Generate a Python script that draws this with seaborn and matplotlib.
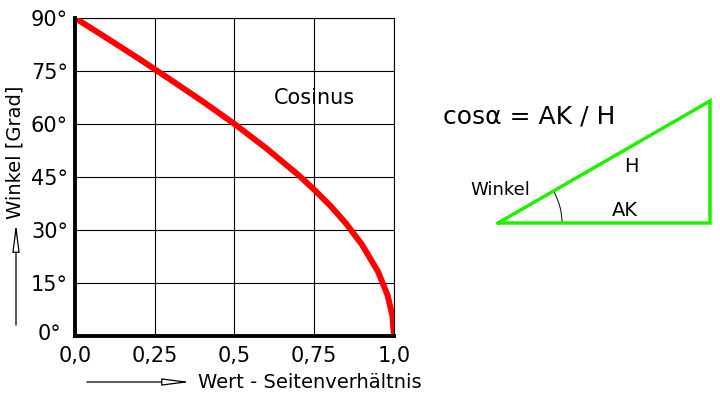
import matplotlib
matplotlib.use("Agg")
import matplotlib.pyplot as plt
import matplotlib.transforms as mtransforms
import seaborn as sns
import pandas as pd
from matplotlib.patches import Arc

# data
wert = [0.0, 0.1, 0.2, 0.25, 0.3, 0.4, 0.5, 0.6, 0.7, 0.75, 0.8, 0.85, 0.9, 0.95, 0.98, 0.995, 1.0]
winkel = [90, 84.3, 78.5, 75.5, 72.5, 66.4, 60, 53.1, 45.6, 41.4, 36.9, 31.8, 25.8, 18.2, 11.5, 5.7, 0]
x_ticks = [0, 0.25, 0.5, 0.75, 1.0]
x_labels = ["0,0", "0,25", "0,5", "0,75", "1,0"]
y_ticks = [0, 15, 30, 45, 60, 75, 90]
y_labels = ["0°", "15°", "30°", "45°", "60°", "75°", "90°"]

sns.set_style("white")
plt.rcParams['font.family'] = ['DejaVu Sans']
plt.rcParams['text.color'] = 'black'
plt.rcParams['xtick.color'] = 'black'
plt.rcParams['ytick.color'] = 'black'

W, H = 720, 400
fig = plt.figure(figsize=(7.2, 4.0), dpi=100)
ax = fig.add_axes([75 / W, 1 - 336 / H, (394 - 75) / W, (336 - 18) / H])

df = pd.DataFrame({"Wert": wert, "Winkel": winkel})
sns.lineplot(data=df, x="Wert", y="Winkel", ax=ax, color="#ff0000", linewidth=4.3,
             solid_capstyle="round", zorder=5)
ax.set_xlim(0, 1.0)
ax.set_ylim(0, 90)
ax.set_xticks(x_ticks)
ax.set_yticks(y_ticks)
ax.set_xticklabels(x_labels, fontsize=15)
ax.set_yticklabels(y_labels, fontsize=15)
ax.tick_params(axis="y", length=0, pad=5)
ax.tick_params(axis="x", length=0, pad=7)
# nudge the "0°" label up-left so it does not collide with "0,0"
lbl0 = ax.get_yticklabels()[0]
lbl0.set_transform(lbl0.get_transform() +
                   mtransforms.ScaledTranslation(-5 / 72, 3 / 72, fig.dpi_scale_trans))
ax.grid(True, color="black", linewidth=0.8)
ax.set_xlabel("")
ax.set_ylabel("")
for s in ["left", "bottom"]:
    ax.spines[s].set_color("black")
    ax.spines[s].set_linewidth(2.8)
    ax.spines[s].set_zorder(6)
for s in ["top", "right"]:
    ax.spines[s].set_color("black")
    ax.spines[s].set_linewidth(0.8)
ax.text(314 / W, 1 - 98 / H, "Cosinus", transform=fig.transFigure, fontsize=15,
        ha="center", va="center")

# overlay axes in pixel coords for annotations
ov = fig.add_axes([0, 0, 1, 1], facecolor="none")
ov.set_xlim(0, W)
ov.set_ylim(H, 0)
ov.axis("off")

ov.text(15, 152, "Winkel [Grad]", rotation=90, fontsize=14, ha="center", va="center")
ov.annotate("", xy=(16, 221), xytext=(16, 328),
            arrowprops=dict(arrowstyle="-|>,head_length=1.7,head_width=0.22", lw=0.9,
                            ec="black", fc="white"))
ov.text(198, 383, "Wert - Seitenverhältnis", fontsize=14, ha="left", va="center")
ov.annotate("", xy=(193, 382), xytext=(84, 382),
            arrowprops=dict(arrowstyle="-|>,head_length=1.7,head_width=0.22", lw=0.9,
                            ec="black", fc="white"))

# triangle
tri_x = [498, 710, 710, 498]
tri_y = [223, 223, 101, 223]
ov.plot(tri_x, tri_y, color="#22ee00", linewidth=2.5, solid_joinstyle="miter")
ov.text(443, 117, "cosα = AK / H", fontsize=18, ha="left", va="center")
ov.text(631, 166, "H", fontsize=14, ha="center", va="center")
ov.text(625, 210, "AK", fontsize=14, ha="center", va="center")
ov.text(500, 190, "Winkel", fontsize=13, ha="center", va="center")
ov.add_patch(Arc((498, 223), 128, 128, theta1=-30, theta2=0, color="black", lw=0.7))

fig.savefig("out.png", dpi=100)
